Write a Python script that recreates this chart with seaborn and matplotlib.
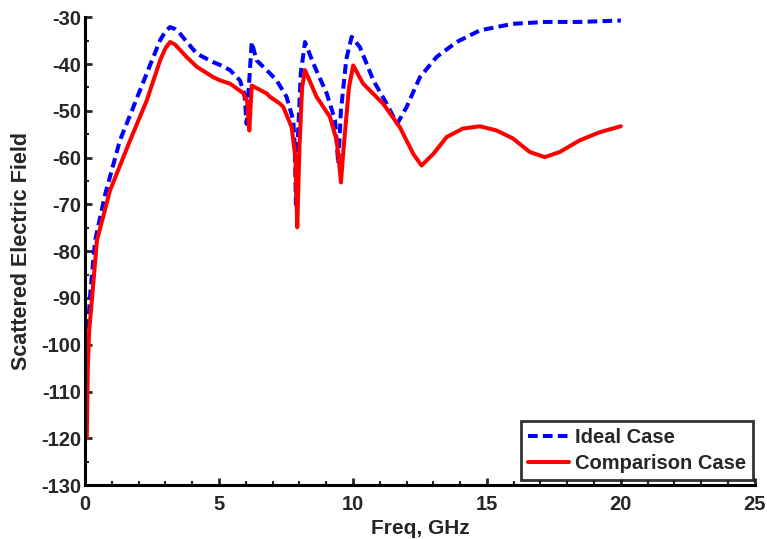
import numpy as np
import pandas as pd
import matplotlib
matplotlib.use("Agg")
import matplotlib.pyplot as plt
import seaborn as sns
from matplotlib.ticker import MultipleLocator

# Data
ideal_freq = [0.06, 0.12, 0.2, 0.37, 0.75, 1.3, 1.8, 2.3, 2.8, 3.0, 3.17, 3.35, 3.54, 4.17, 4.78, 5.04,
              5.41, 5.78, 5.95, 6.03, 6.1, 6.22, 6.4, 6.9, 7.15, 7.52, 7.77, 7.83, 7.87, 7.95, 8.05,
              8.21, 8.52, 9.02, 9.33, 9.45, 9.55, 9.75, 9.95, 10.26, 10.76, 11.26, 11.63, 11.69,
              12.0, 12.5, 13.12, 13.87, 14.74, 15.97, 17.2, 18.47, 20.0]
ideal_vals = [-103, -95, -88.5, -77.8, -67.8, -56.3, -49.2, -42.0, -34.9, -33.0, -32.1, -32.5, -33.5,
              -37.8, -39.6, -40.2, -41.3, -43.5, -46.5, -52.8, -46, -35.3, -39.2, -42.0, -43.5, -47.0,
              -52.0, -58, -70.0, -55, -42, -35.3, -39.9, -46.3, -52.0, -61.3, -50, -39, -34.2, -36.4,
              -43.5, -48.5, -52.6, -52.4, -49.2, -42.8, -38.5, -35.3, -32.8, -31.4, -31.0, -31.0, -30.7]

comp_freq = [0.06, 0.1, 0.15, 0.25, 0.44, 0.93, 1.68, 2.3, 2.8, 3.0, 3.17, 3.35, 3.79, 4.17, 4.78, 5.04,
             5.41, 5.9, 6.05, 6.13, 6.17, 6.22, 6.78, 6.9, 7.28, 7.4, 7.71, 7.85, 7.92, 8.0, 8.1,
             8.21, 8.64, 9.14, 9.39, 9.5, 9.55, 9.65, 9.85, 10.01, 10.38, 11.13, 11.75, 12.25,
             12.56, 13.0, 13.5, 14.1, 14.74, 15.36, 15.97, 16.6, 17.16, 17.72, 18.47, 19.2, 20.0]
comp_vals = [-120, -105, -97, -90.6, -77.7, -67.0, -56.3, -47.8, -39.2, -36.6, -35.3, -35.8, -38.5,
             -40.6, -42.8, -43.5, -44.2, -46.2, -48, -54.2, -50, -44.6, -46.3, -47.0, -48.5, -49.2,
             -53.5, -60, -74.9, -58, -45, -41.3, -47.0, -51.3, -56.3, -62, -65.3, -58, -45, -40.3,
             -44.2, -48.5, -53.5, -59.2, -61.7, -59.2, -55.6, -53.8, -53.3, -54.2, -55.9, -58.8,
             -59.9, -58.8, -56.3, -54.6, -53.3]

series_names = ["Ideal Case", "Comparison Case"]
x_ticks = [0, 5, 10, 15, 20, 25]
y_ticks = [-130, -120, -110, -100, -90, -80, -70, -60, -50, -40, -30]

df = pd.concat([
    pd.DataFrame({"freq": ideal_freq, "field": ideal_vals, "case": series_names[0]}),
    pd.DataFrame({"freq": comp_freq, "field": comp_vals, "case": series_names[1]}),
], ignore_index=True)

sns.set_style("white")
plt.rcParams["font.family"] = ["Liberation Sans", "DejaVu Sans"]
plt.rcParams["font.weight"] = "bold"
plt.rcParams["axes.unicode_minus"] = False

fig = plt.figure(figsize=(7.67, 5.39), dpi=100)
ax = fig.add_axes([0.111, 0.100, 0.873, 0.868])

sns.lineplot(data=df, x="freq", y="field", hue="case", style="case", sort=False,
             palette={series_names[0]: "#0000ff", series_names[1]: "#ff0000"},
             dashes={series_names[0]: (2.4, 1.3), series_names[1]: ""},
             linewidth=2.9, ax=ax, legend=True)

ax.set_xlim(0, 25)
ax.set_ylim(-130, -30)
ax.set_xticks(x_ticks)
ax.set_yticks(y_ticks)
ax.set_xticklabels([str(t) for t in x_ticks], fontsize=14.5, fontweight="bold")
ax.set_yticklabels([str(t) for t in y_ticks], fontsize=14.5, fontweight="bold")
ax.xaxis.set_minor_locator(MultipleLocator(1))
ax.yaxis.set_minor_locator(MultipleLocator(5))
ax.tick_params(which="major", direction="in", length=5, width=2,
               bottom=True, left=True, top=False, right=False)
ax.tick_params(axis="x", which="major", pad=7)
ax.tick_params(axis="y", which="major", pad=3)
ax.tick_params(which="minor", direction="in", length=3, width=1.5,
               bottom=True, left=True, top=False, right=False)

for s in ["top", "right"]:
    ax.spines[s].set_visible(False)
for s in ["left", "bottom"]:
    ax.spines[s].set_linewidth(2.2)
    ax.spines[s].set_color("black")

ax.set_xlabel("Freq, GHz", fontsize=15, fontweight="bold")
ax.set_ylabel("Scattered Electric Field", fontsize=15.5, fontweight="bold")
ax.xaxis.set_label_coords(0.5, -0.072)
ax.yaxis.set_label_coords(-0.079, 0.5)

leg = ax.legend(loc="lower right", bbox_to_anchor=(0.997, 0.01), frameon=True, fancybox=False,
                fontsize=14.5, handlelength=2.0, handletextpad=0.3, borderpad=0.35,
                labelspacing=0.35, borderaxespad=0.0)
leg.get_frame().set_edgecolor("black")
leg.get_frame().set_linewidth(2)
for t in leg.get_texts():
    t.set_fontweight("bold")

fig.savefig("out.png", dpi=100)
